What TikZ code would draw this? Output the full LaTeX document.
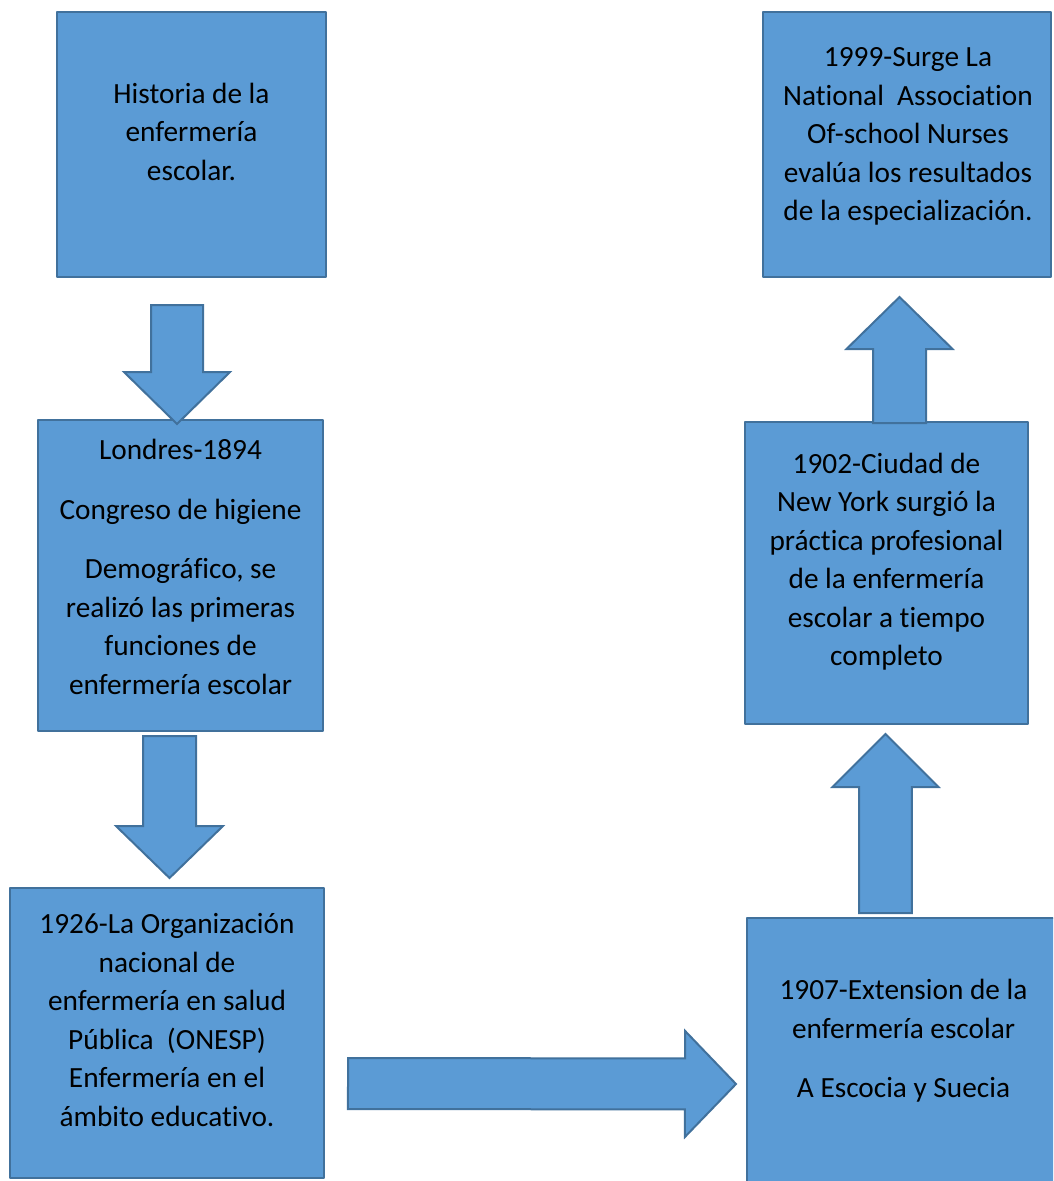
\documentclass[tikz,border=0pt]{standalone}
\usepackage{fontspec}
\setmainfont{Carlito}[Ligatures=NoCommon]
\usepackage{xcolor}
\usetikzlibrary{positioning,calc}

\definecolor{stagefill}{HTML}{5B9BD5}
\definecolor{stageline}{HTML}{41719C}

\tikzset{
	stage/.style={draw=stageline, fill=stagefill, line width=2pt, inner sep=0pt},
	stagetxt/.style={align=center, inner sep=0pt, font=\fontsize{29.3}{38.5}\selectfont},
	bigarrow/.style={draw=stageline, fill=stagefill, line width=2pt, line join=miter}
}

% block arrow: tail, tip, half shaft, half head, head length
\newcommand{\blockarrow}[5]{%
	\coordinate (hb) at ($(#2)!#5!(#1)$);
	\draw[bigarrow] ($(#1)!#3!90:(#2)$) -- ($(hb)!#3!-90:(#1)$) -- ($(hb)!#4!-90:(#1)$)
	-- (#2) -- ($(hb)!#4!90:(#1)$) -- ($(hb)!#3!90:(#1)$) -- ($(#1)!#3!-90:(#2)$) -- cycle;
}

\begin{document}
\begin{tikzpicture}[
				x=1pt,y=-1pt,
				line cap=round,line join=round
				]
				\useasboundingbox (0,0) rectangle (1053,1181);
				\clip (0,0) rectangle (1053,1181);
				
				%----- left column
				\node[stage, minimum width=269pt, minimum height=265pt] (hist) at (191.5,144.5) {};
				\node[stage, minimum width=285pt, minimum height=311pt] (londres) at (180.5,575.5) {};
				\node[stage, minimum width=314pt, minimum height=290pt] (onesp) at (167,1033) {};
				
				%----- right column
				\node[stage, minimum width=313pt, minimum height=274pt] (extension) at (903.5,1055) {};
				\node[stage, minimum width=283pt, minimum height=302pt] (newyork) at (886.5,573) {};
				\node[stage, minimum width=288pt, minimum height=265pt] (nasn) at (907,144.5) {};
				
				%----- texts
				\node[stagetxt] (histTxt) at ($(hist.center)+(0,-10.5)$)
				{\strut Historia de la\\ enfermería\\ escolar.\strut};
				\node[stagetxt] (londresTxt) at ($(londres.center)+(0,-6)$)
				{\strut Londres-1894\\[21pt] Congreso de higiene\\[21pt] Demográfico, se\\ realizó las primeras\\ funciones de\\ enfermería escolar\strut};
				\node[stagetxt] (onespTxt) at ($(onesp.center)+(0,-10.5)$)
				{\strut 1926-La Organización\\ nacional de\\ enfermería en salud\\ Pública\ \ (ONESP)\\ Enfermería en el\\ ámbito educativo.\strut};
				\node[stagetxt] (extensionTxt) at ($(extension.center)+(0,-14)$)
				{\strut 1907-Extension de la\\ enfermería escolar\\[21pt] A Escocia y Suecia\strut};
				\node[stagetxt] (newyorkTxt) at ($(newyork.center)+(0,-11)$)
				{\strut 1902-Ciudad de\\ New York surgió la\\ práctica profesional\\ de la enfermería\\ escolar a tiempo\\ completo\strut};
				\node[stagetxt] (nasnTxt) at ($(nasn.center)+(1,-8.5)$)
				{\strut 1999-Surge La\\ National\ \ Association\\ Of-school Nurses\\ evalúa los resultados\\ de la especialización.\strut};
				
				%----- arrows between the stages
				\coordinate (a1tail) at ($(hist.south)+(-14.5,27)$);
				\coordinate (a1tip) at ($(londres.north)+(-3.5,5)$);
				\blockarrow{a1tail}{a1tip}{26pt}{53pt}{52pt}
				
				\coordinate (a2tail) at ($(londres.south)+(-11,4)$);
				\coordinate (a2tip) at ($(onesp.north)+(2.5,-9)$);
				\blockarrow{a2tail}{a2tip}{26.5pt}{53.5pt}{52pt}
				
				\coordinate (a3tail) at ($(onesp.east)+(23,50.5)$);
				\coordinate (a3tip) at ($(extension.west)+(-10,29)$);
				\blockarrow{a3tail}{a3tip}{25.5pt}{53pt}{51pt}
				
				\coordinate (a4tail) at ($(extension.north)+(-18,-4)$);
				\coordinate (a4tip) at ($(newyork.south)+(-1,9)$);
				\blockarrow{a4tail}{a4tip}{26.3pt}{53pt}{53pt}
				
				\coordinate (a5tail) at ($(newyork.north)+(13,2)$);
				\coordinate (a5tip) at ($(nasn.south)+(-7.5,19)$);
				\blockarrow{a5tail}{a5tip}{26.5pt}{53pt}{52pt}
				
			\end{tikzpicture}
\end{document}
